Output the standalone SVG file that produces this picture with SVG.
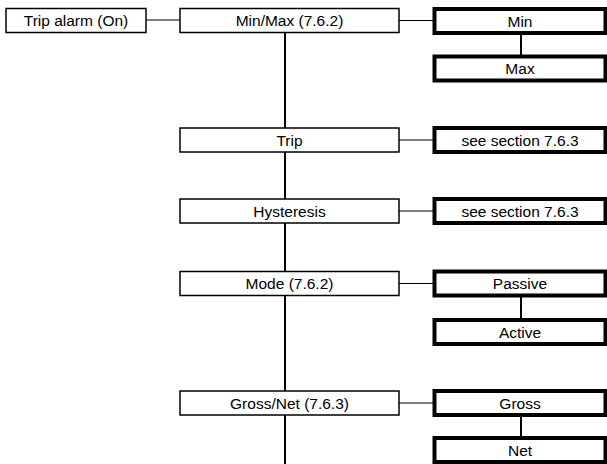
<svg xmlns="http://www.w3.org/2000/svg" width="607" height="464" viewBox="0 0 607 464">
<style>
.thin{fill:#fff;stroke:#000;stroke-width:1.5}
.thick{fill:#fff;stroke:#000;stroke-width:4}
.lbl{font-family:"Liberation Sans",Arial,sans-serif;font-size:15.5px;fill:#000;text-anchor:middle}
.c{stroke:#000;stroke-width:1.2;fill:none}
.v{stroke:#000;stroke-width:2;fill:none}
</style>
<rect width="607" height="464" fill="#fff"/>
<g id="connectors">
<line class="c" x1="146" y1="20" x2="180" y2="20"/>
<line class="v" x1="285" y1="32" x2="285" y2="464"/>
<line class="c" x1="399" y1="20.5" x2="434" y2="20.5"/>
<line class="v" x1="521" y1="34" x2="521" y2="56"/>
<line class="c" x1="399" y1="140" x2="434" y2="140"/>
<line class="c" x1="399" y1="211" x2="434" y2="211"/>
<line class="c" x1="399" y1="283.5" x2="434" y2="283.5"/>
<line class="v" x1="521" y1="297" x2="521" y2="320"/>
<line class="c" x1="399" y1="403" x2="434" y2="403"/>
<line class="v" x1="521" y1="416" x2="521" y2="438"/>
</g>
<g id="trip-alarm"><rect class="thin" x="6" y="8.5" width="140" height="24"/><text class="lbl" x="76" y="26">Trip alarm (On)</text></g>
<g id="minmax"><rect class="thin" x="180" y="8.5" width="219" height="24"/><text class="lbl" x="289.5" y="26">Min/Max (7.6.2)</text></g>
<g id="min"><rect class="thick" x="434.5" y="9" width="171" height="24"/><text class="lbl" x="520" y="26.5">Min</text></g>
<g id="max"><rect class="thick" x="434.5" y="56.5" width="171" height="24"/><text class="lbl" x="520" y="74">Max</text></g>
<g id="trip"><rect class="thin" x="180" y="128" width="219" height="24"/><text class="lbl" x="289.5" y="145.5">Trip</text></g>
<g id="trip-see"><rect class="thick" x="434.5" y="128" width="171" height="24"/><text class="lbl" x="520" y="145.5">see section 7.6.3</text></g>
<g id="hysteresis"><rect class="thin" x="180" y="199" width="219" height="24"/><text class="lbl" x="289.5" y="216.5">Hysteresis</text></g>
<g id="hyst-see"><rect class="thick" x="434.5" y="199" width="171" height="24"/><text class="lbl" x="520" y="216.5">see section 7.6.3</text></g>
<g id="mode"><rect class="thin" x="180" y="271.5" width="219" height="24"/><text class="lbl" x="289.5" y="289">Mode (7.6.2)</text></g>
<g id="passive"><rect class="thick" x="434.5" y="271.5" width="171" height="24"/><text class="lbl" x="520" y="289">Passive</text></g>
<g id="active"><rect class="thick" x="434.5" y="320" width="171" height="24"/><text class="lbl" x="520" y="337.5">Active</text></g>
<g id="grossnet"><rect class="thin" x="180" y="391" width="219" height="24"/><text class="lbl" x="289.5" y="408.5">Gross/Net (7.6.3)</text></g>
<g id="gross"><rect class="thick" x="434.5" y="391" width="171" height="24"/><text class="lbl" x="520" y="408.5">Gross</text></g>
<g id="net"><rect class="thick" x="434.5" y="438" width="171" height="24"/><text class="lbl" x="520" y="455.5">Net</text></g>
</svg>
